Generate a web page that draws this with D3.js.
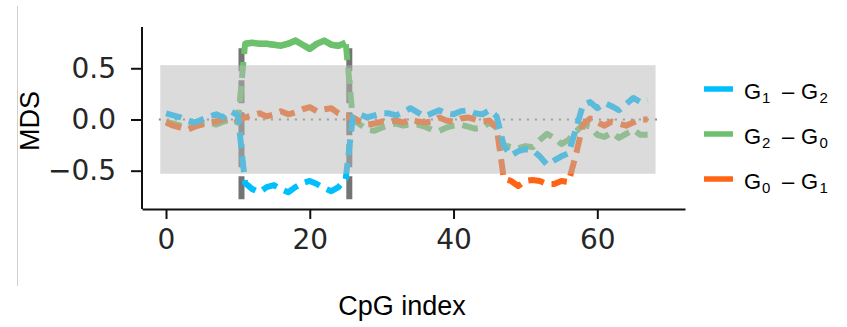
<!DOCTYPE html>
<html><head><meta charset="utf-8">
<script src="https://cdn.jsdelivr.net/npm/d3@7/dist/d3.min.js"></script>
<style>body{margin:0;background:#fff}</style>
</head><body>
<svg id="chart" width="847" height="327"></svg>
<script>
// ---------------- data ----------------
const seriesNames = ["G1 – G2", "G2 – G0", "G0 – G1"];
const seriesColors = ["#00bfff", "#6cc16c", "#ff6414"];
// values per CpG index (index = position in array)
const g1g2 = [0.06,0.04,0.02,-0.01,-0.03,0.00,0.03,0.05,0.02,0.08,0.04,
  -0.62,-0.68,-0.71,-0.66,-0.64,-0.68,-0.71,-0.66,-0.62,-0.60,-0.63,-0.67,-0.70,-0.66,-0.58,
  0.03,0.05,0.02,0.04,0.06,0.06,0.04,0.07,0.11,0.07,0.03,0.06,0.09,0.06,0.05,0.08,0.09,0.06,0.05,0.09,0.03,
  -0.26,-0.35,-0.31,-0.29,-0.30,-0.36,-0.44,-0.40,-0.36,-0.33,-0.10,
  0.14,0.17,0.11,0.16,0.13,0.09,0.15,0.21,0.17,0.19];
const g2g0 = [-0.02,-0.04,-0.06,-0.08,-0.06,-0.04,-0.03,-0.05,-0.02,0.00,-0.03,
  0.74,0.75,0.74,0.74,0.73,0.72,0.74,0.77,0.73,0.69,0.74,0.77,0.73,0.72,0.75,
  0.00,-0.05,-0.10,-0.11,-0.08,-0.06,-0.04,-0.06,-0.05,-0.05,-0.07,-0.10,-0.11,-0.08,-0.06,-0.05,-0.07,-0.09,-0.08,-0.03,-0.08,
  -0.25,-0.27,-0.28,-0.26,-0.27,-0.20,-0.14,-0.18,-0.24,-0.20,-0.12,
  -0.05,-0.07,-0.15,-0.17,-0.13,-0.18,-0.14,-0.10,-0.15,-0.15];
const g0g1 = [-0.03,-0.06,-0.08,-0.10,-0.07,-0.05,-0.03,-0.02,0.00,0.02,-0.01,
  0.02,0.04,0.06,0.03,0.05,0.08,0.05,0.07,0.10,0.12,0.08,0.10,0.11,0.06,0.03,
  0.02,-0.02,-0.05,-0.04,-0.02,-0.02,-0.01,-0.03,0.00,-0.02,-0.03,-0.02,0.02,-0.01,-0.02,0.01,0.02,0.00,-0.02,-0.01,-0.08,
  -0.58,-0.60,-0.65,-0.60,-0.59,-0.60,-0.63,-0.63,-0.60,-0.61,-0.35,
  -0.05,0.01,-0.03,-0.06,-0.02,-0.04,-0.06,-0.03,0.00,0.00];
const seriesValues = [g1g2, g2g0, g0g1];
const boundaries = [10.5, 25.5];          // vertical dashed separators
const boundaryRange = [-0.78, 0.78];
const bandY = [-0.53, 0.53];              // grey band
const bandX = [-0.8, 68.1];
const xTicks = [0, 20, 40, 60];
const yTicks = [-0.5, 0.0, 0.5];
const yTickLabels = ["\u22120.5", "0.0", "0.5"];
const xDomain = [-3.34, 72.2];
const yDomain = [-0.874, 0.903];

// ---------------- chart ----------------
const svg = d3.select("#chart");
const x = d3.scaleLinear().domain(xDomain).range([142, 685]);
const y = d3.scaleLinear().domain(yDomain).range([209, 27]);

// stray thin line at far left
svg.append("line").attr("x1", 17.5).attr("x2", 17.5).attr("y1", 6).attr("y2", 286)
  .attr("stroke", "#cfcfcf").attr("stroke-width", 1);

const plot = svg.append("g");

// separators
boundaries.forEach(b => {
  plot.append("line")
    .attr("x1", x(b)).attr("x2", x(b))
    .attr("y1", y(boundaryRange[0])).attr("y2", y(boundaryRange[1]))
    .attr("stroke", "#747474").attr("stroke-width", 6)
    .attr("stroke-dasharray", "23,9");
});

// zero dotted line
plot.append("line")
  .attr("x1", x(-1)).attr("x2", x(68.6))
  .attr("y1", y(0)).attr("y2", y(0))
  .attr("stroke", "#8a8a8a").attr("stroke-width", 2.2)
  .attr("stroke-dasharray", "2.2,5.8");

const line = d3.line().x(d => x(d[0])).y(d => y(d[1]));
const pts = vals => vals.map((v, i) => [i, v]);
const drawOrder = [1, 2, 0];
drawOrder.forEach(k => {
  plot.append("path")
    .datum(pts(seriesValues[k]))
    .attr("d", line)
    .attr("fill", "none")
    .attr("stroke", seriesColors[k])
    .attr("stroke-width", 6)
    .attr("stroke-linejoin", "round")
    .attr("stroke-dasharray", "16,8");
});
// the G2–G0 plateau reads as a continuous stroke in the reference
plot.append("path")
  .datum(pts(g2g0).slice(11, 26))
  .attr("d", line)
  .attr("fill", "none")
  .attr("stroke", seriesColors[1])
  .attr("stroke-width", 6.5)
  .attr("stroke-linejoin", "round");

// grey translucent band over the lines
plot.append("rect")
  .attr("x", x(bandX[0])).attr("width", x(bandX[1]) - x(bandX[0]))
  .attr("y", y(bandY[1])).attr("height", y(bandY[0]) - y(bandY[1]))
  .attr("fill", "#b8b8b8").attr("opacity", 0.5);

// axes
const fontTick = "'DejaVu Sans', sans-serif";
const xAxis = svg.append("g").attr("transform", "translate(0,209)")
  .call(d3.axisBottom(x).tickValues(xTicks).tickSize(10).tickPadding(10).tickSizeOuter(0));
const yAxis = svg.append("g").attr("transform", "translate(142,0)")
  .call(d3.axisLeft(y).tickValues(yTicks).tickFormat((d, i) => yTickLabels[i]).tickSize(11).tickPadding(15).tickSizeOuter(0));
[xAxis, yAxis].forEach(a => {
  a.select(".domain").attr("stroke", "#111").attr("stroke-width", 2);
  a.selectAll(".tick line").attr("stroke", "#111").attr("stroke-width", 2);
  a.selectAll(".tick text").attr("font-family", fontTick).attr("font-size", 28).attr("fill", "#262626");
});
yAxis.select(".domain").attr("d", `M0,${y(yDomain[0])}V${y(yDomain[1])}`);

// axis labels
svg.append("text").attr("x", 402).attr("y", 315).attr("text-anchor", "middle")
  .attr("font-family", "'Liberation Sans', Arial, sans-serif").attr("font-size", 27)
  .attr("fill", "#000").text("CpG index");
svg.append("text").attr("transform", "translate(39,121) rotate(-90)").attr("text-anchor", "middle")
  .attr("font-family", "'Liberation Sans', Arial, sans-serif").attr("font-size", 27)
  .attr("fill", "#000").text("MDS");

// legend
const legendY = [89, 134, 179];
seriesNames.forEach((name, k) => {
  const g = svg.append("g").attr("transform", `translate(0,${legendY[k]})`);
  g.append("line").attr("x1", 704).attr("x2", 733).attr("y1", 0).attr("y2", 0)
    .attr("stroke", seriesColors[k]).attr("stroke-width", 5.5);
  const parts = name.match(/^(\D)(\d) – (\D)(\d)$/);
  const t = g.append("text").attr("y", 9.5)
    .attr("font-family", "'Liberation Sans', Arial, sans-serif").attr("font-size", 22).attr("fill", "#000");
  t.append("tspan").attr("x", 744).text(parts[1]);
  t.append("tspan").attr("x", 762).attr("font-size", 15).attr("dy", 4).text(parts[2]);
  t.append("tspan").attr("x", 782).attr("dy", -4).text("–");
  t.append("tspan").attr("x", 801).text(parts[3]);
  t.append("tspan").attr("x", 819.5).attr("font-size", 15).attr("dy", 4).text(parts[4]);
});
</script>
</body></html>
